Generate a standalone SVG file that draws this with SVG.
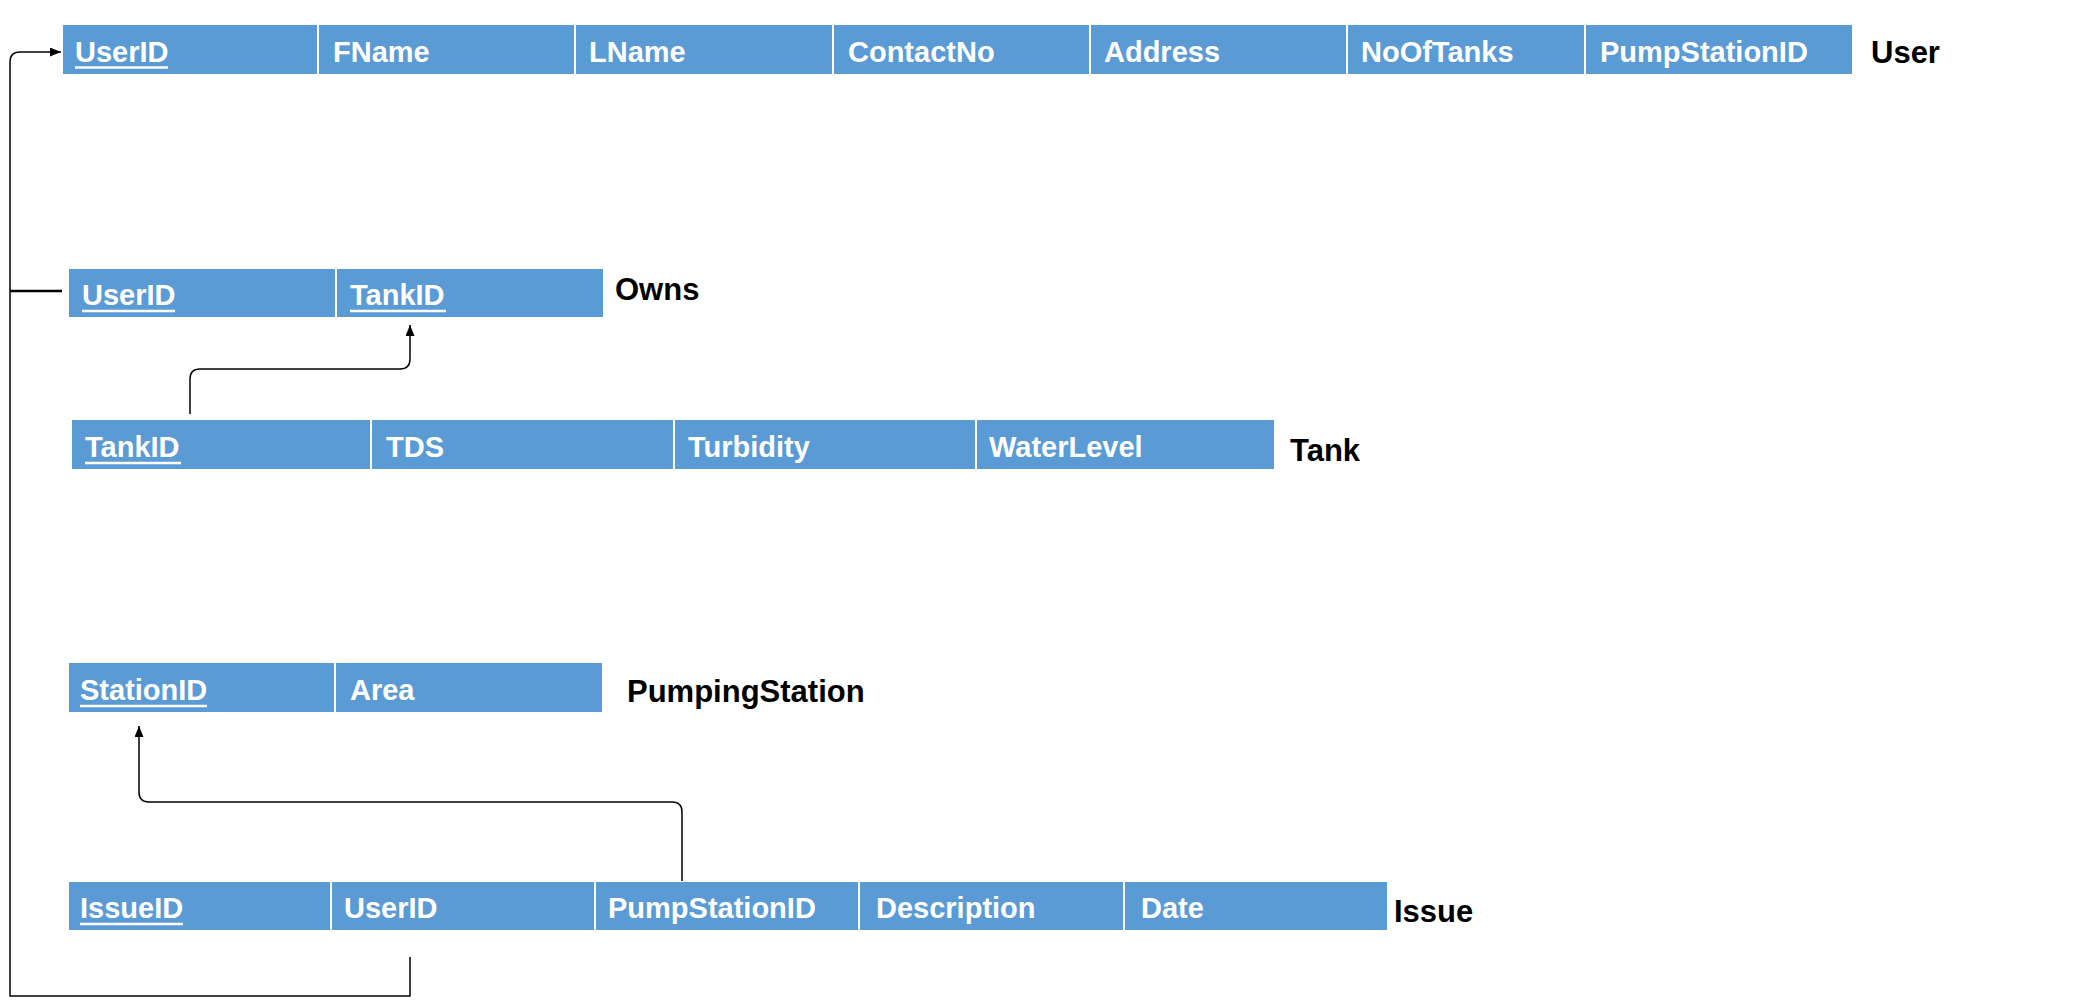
<svg xmlns="http://www.w3.org/2000/svg" width="2083" height="1008" viewBox="0 0 2083 1008">
<style>
.cell{fill:#5B9BD5;stroke:#ffffff;stroke-width:2}
.ft{font-family:"Liberation Sans",Arial,sans-serif;font-weight:bold;font-size:29px;fill:#ffffff}
.lbl{font-family:"Liberation Sans",Arial,sans-serif;font-weight:bold;font-size:31px;fill:#000000}
.ul{stroke:#ffffff;stroke-width:2.5}
.conn{fill:none;stroke:#000000;stroke-width:1.5}
</style>
<defs>
<marker id="arr" markerUnits="userSpaceOnUse" markerWidth="11" markerHeight="9" refX="11" refY="4.5" orient="auto">
<path d="M0,0 L11,4.5 L0,9 z" fill="#000000"/>
</marker>
</defs>
<rect width="2083" height="1008" fill="#ffffff"/>

<g id="user">
<rect class="cell" x="62" y="24" width="256" height="51"/>
<rect class="cell" x="318" y="24" width="257" height="51"/>
<rect class="cell" x="575" y="24" width="258" height="51"/>
<rect class="cell" x="833" y="24" width="257" height="51"/>
<rect class="cell" x="1090" y="24" width="257" height="51"/>
<rect class="cell" x="1347" y="24" width="238" height="51"/>
<rect class="cell" x="1585" y="24" width="268" height="51"/>
<text class="ft" x="75" y="62">UserID</text>
<line class="ul" x1="75" y1="67.5" x2="168" y2="67.5"/>
<text class="ft" x="333" y="62">FName</text>
<text class="ft" x="589" y="62">LName</text>
<text class="ft" x="848" y="62">ContactNo</text>
<text class="ft" x="1104" y="62">Address</text>
<text class="ft" x="1361" y="62">NoOfTanks</text>
<text class="ft" x="1600" y="62">PumpStationID</text>
<text class="lbl" x="1871" y="63">User</text>
</g>

<g id="owns">
<rect class="cell" x="68" y="268" width="268" height="50"/>
<rect class="cell" x="336" y="268" width="268" height="50"/>
<text class="ft" x="82" y="305">UserID</text>
<line class="ul" x1="82" y1="311" x2="175" y2="311"/>
<text class="ft" x="350" y="305">TankID</text>
<line class="ul" x1="350" y1="311" x2="446" y2="311"/>
<text class="lbl" x="615" y="300">Owns</text>
</g>

<g id="tank">
<rect class="cell" x="71" y="419" width="300" height="51"/>
<rect class="cell" x="371" y="419" width="303" height="51"/>
<rect class="cell" x="674" y="419" width="302" height="51"/>
<rect class="cell" x="976" y="419" width="299" height="51"/>
<text class="ft" x="85" y="457">TankID</text>
<line class="ul" x1="85" y1="463" x2="181" y2="463"/>
<text class="ft" x="386" y="457">TDS</text>
<text class="ft" x="688" y="457">Turbidity</text>
<text class="ft" x="989" y="457">WaterLevel</text>
<text class="lbl" x="1290" y="461">Tank</text>
</g>

<g id="pumpingstation">
<rect class="cell" x="68" y="662" width="267" height="51"/>
<rect class="cell" x="335" y="662" width="268" height="51"/>
<text class="ft" x="80" y="700">StationID</text>
<line class="ul" x1="80" y1="706" x2="207" y2="706"/>
<text class="ft" x="350" y="700">Area</text>
<text class="lbl" x="627" y="702">PumpingStation</text>
</g>

<g id="issue">
<rect class="cell" x="68" y="881" width="263" height="50"/>
<rect class="cell" x="331" y="881" width="264" height="50"/>
<rect class="cell" x="595" y="881" width="264" height="50"/>
<rect class="cell" x="859" y="881" width="265" height="50"/>
<rect class="cell" x="1124" y="881" width="264" height="50"/>
<text class="ft" x="80" y="918">IssueID</text>
<line class="ul" x1="80" y1="924" x2="183" y2="924"/>
<text class="ft" x="344" y="918">UserID</text>
<text class="ft" x="608" y="918">PumpStationID</text>
<text class="ft" x="876" y="918">Description</text>
<text class="ft" x="1141" y="918">Date</text>
<text class="lbl" x="1394" y="922">Issue</text>
</g>

<g id="connectors">
<path class="conn" d="M410,957 V996 H10 V62 Q10,52 20,52 H61" marker-end="url(#arr)"/>
<path d="M10,291 H62" fill="none" stroke="#000000" stroke-width="2.5"/>
<path class="conn" d="M190,414 V379 Q190,369 200,369 H400 Q410,369 410,359 V325" marker-end="url(#arr)"/>
<path class="conn" d="M682,881 V812 Q682,802 672,802 H149 Q139,802 139,792 V726" marker-end="url(#arr)"/>
</g>
</svg>
